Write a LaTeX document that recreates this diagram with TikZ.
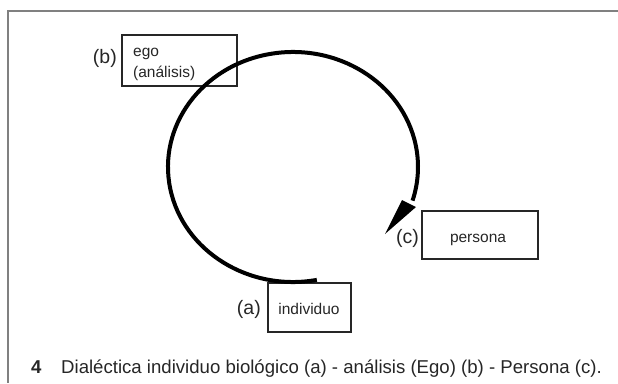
\documentclass[tikz,border=0pt]{standalone}
\usepackage{fontspec}
\setmainfont{Liberation Sans}
\usetikzlibrary{calc}
\begin{document}
\begin{tikzpicture}[x=1pt,y=1pt,
  frame/.style={draw=black!50, line width=1.5pt},
  box/.style={draw=black!85, line width=1.2pt, inner sep=0pt},
  boxtext/.style={font=\fontsize{15.5}{21}\selectfont, inner sep=0pt, text=black!85},
  lbl/.style={font=\fontsize{19.5}{22}\selectfont, inner sep=0pt, anchor=base east, text=black!85},
  captext/.style={font=\fontsize{18.6}{22}\selectfont, inner sep=0pt, anchor=base west, text=black!85},
  loopline/.style={draw=black, line width=4pt}]
\useasboundingbox (0,0) rectangle (618,-383);
% open frame
\coordinate (fTR) at (618,-11);
\coordinate (fTL) at (8,-11);
\coordinate (fBL) at (8,-383);
\draw[frame] (fTR) -- (fTL) -- (fBL);
% boxes
\node[box, minimum width=115, minimum height=51] (ego) at (179.5,-60.5) {};
\node[boxtext, anchor=base west, align=left] (egotxt) at (133,-77) {ego\\(análisis)};
\node[box, minimum width=116, minimum height=48] (persona) at (480,-235) {};
\node[boxtext, anchor=base] (personatxt) at (478,-242) {persona};
\node[box, minimum width=83, minimum height=49] (indiv) at (309.5,-307.5) {};
\node[boxtext, anchor=base] (indivtxt) at (309,-314) {individuo};
% labels
\node[lbl] (lb) at (117,-63) {(b)};
\node[lbl] (lc) at (419,-243) {(c)};
\node[lbl] (la) at (261,-314) {(a)};
% loop
\coordinate (center) at (293,-167);
\coordinate (tail) at ($(center)+(-79:125 and 115)$);
\draw[loopline] (tail) arc[start angle=-79, end angle=-377, x radius=125, y radius=115] coordinate (head);
\fill[black] (402,-200) -- (416,-207) -- (385,-234) -- cycle;
% caption
\node[captext, font=\fontsize{18.6}{22}\selectfont\bfseries] (num) at (31,-373) {4};
\node[captext] (caption) at (61,-373) {Dialéctica individuo biológico (a) - análisis (Ego) (b) - Persona (c).};
\end{tikzpicture}
\end{document}
